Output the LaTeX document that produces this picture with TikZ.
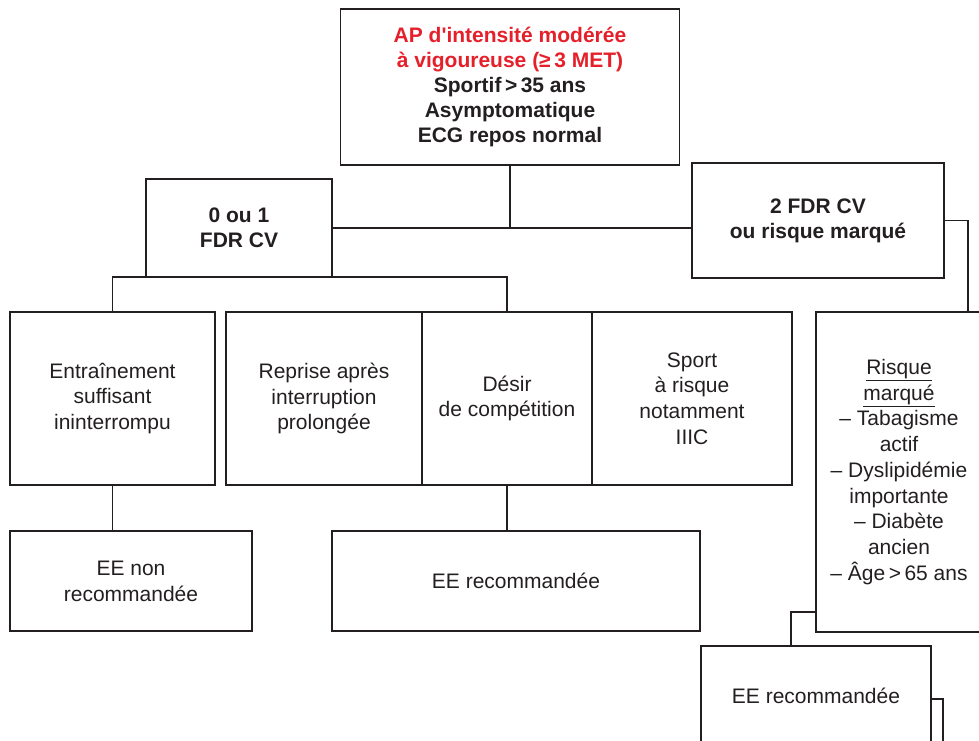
\documentclass[tikz,border=0pt]{standalone}
\usepackage{fontspec}
\setmainfont{Liberation Sans}
\usetikzlibrary{calc,positioning}
\definecolor{ink}{HTML}{231F20}
\definecolor{alert}{HTML}{E5202A}

\begin{document}
\begin{tikzpicture}[x=1pt,y=-1pt,line width=1.8pt,draw=ink,
  box/.style={draw=ink,line width=1.8pt,inner sep=0pt,outer sep=0pt,align=center,text=ink,font=\fontsize{21}{25.75}\selectfont},
  head/.style={box,font=\bfseries\fontsize{21}{25}\selectfont}]
\useasboundingbox (0,0) rectangle (979,740);
\clip (0,0) rectangle (979,740);
% top and first split
\node[head,minimum width=339pt,minimum height=156pt] (top) at (510,87) {\textcolor{alert}{AP d\textquotesingle intensité modérée}\\\textcolor{alert}{à vigoureuse (≥\,3 MET)}\\Sportif\,>\,35 ans\\Asymptomatique\\ECG repos normal};
\node[head,minimum width=186pt,minimum height=98pt] (zero) at (239,228) {0 ou 1\\FDR CV};
\node[head,minimum width=252pt,minimum height=115pt] (two) at (818,220.5) {2 FDR CV\\ou risque marqué};
% situations
\node[box,minimum width=205pt,minimum height=173pt] (entr) at (112.5,398.5) {Entraînement\\suffisant\\ininterrompu};
\node[box,minimum width=196pt,minimum height=173pt,right=11pt of entr] (repr) {Reprise après\\interruption\\prolongée};
\node[box,minimum width=170pt,minimum height=173pt,right=0pt of repr] (desir) {Désir\\de compétition};
\node[box,minimum width=200pt,minimum height=173pt,right=0pt of desir] (sport) {Sport\\à risque\\notamment\\IIIC};
\node[box,minimum width=166pt,minimum height=320pt,anchor=north west] (risque) at (816,312) {\underline{Risque}\\\underline{marqué}\\– Tabagisme\\actif\\– Dyslipidémie\\importante\\– Diabète\\ancien\\– Âge\,>\,65 ans};
% conclusions
\node[box,minimum width=242pt,minimum height=100pt,below=46pt of entr.south west,anchor=north west] (eenon) {EE non\\recommandée};
\node[box,minimum width=368pt,minimum height=100pt] (eerec) at (516,581) {EE recommandée};
\node[box,minimum width=230pt,minimum height=100pt,anchor=north west] (eerisk) at (701,646) {EE recommandée};
\node[box,minimum width=12pt,minimum height=60pt,anchor=north west] (stub) at (931,699) {};
\coordinate[right=69pt of risque.north] (rtop);
\coordinate[above=20pt of risque.south west] (rleft);
\coordinate[right=90pt of eerisk.north west] (eleft);
% connectors
\draw (top.south) -- (top.south |- zero.east);
\draw (zero.east) -- (zero.east -| two.west);
\draw (entr.north) |- (zero.south) -| (desir.north);
\draw (two.east) -| (rtop);
\draw (entr.south) -- (entr.south |- eenon.north);
\draw (desir.south) -- (desir.south |- eerec.north);
\draw (rleft) -| (eleft);
\end{tikzpicture}
\end{document}
